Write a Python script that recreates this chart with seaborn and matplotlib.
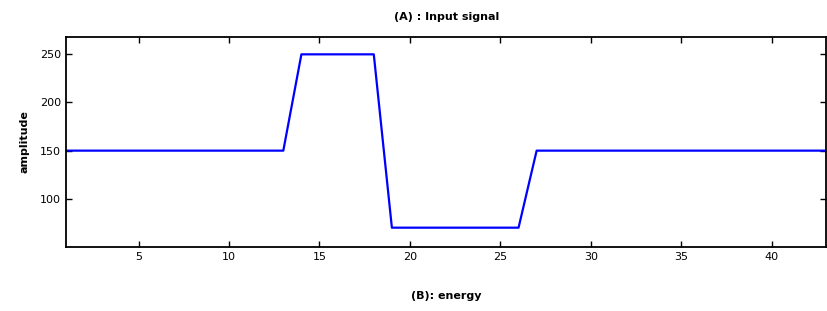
import pandas as pd
import seaborn as sns
import matplotlib.pyplot as plt

# breakpoints of the input signal
energy = [1, 13, 14, 18, 19, 26, 27, 43]
amplitude = [150, 150, 250, 250, 70, 70, 150, 150]

x_ticks = [5, 10, 15, 20, 25, 30, 35, 40]
y_ticks = [100, 150, 200, 250]


def main():
    sns.set_style('ticks')
    plt.rcParams['font.family'] = ['DejaVu Sans']
    plt.rcParams['text.color'] = 'black'
    plt.rcParams['axes.labelcolor'] = 'black'
    plt.rcParams['xtick.color'] = 'black'
    plt.rcParams['ytick.color'] = 'black'
    data = pd.DataFrame({'energy': energy, 'amplitude': amplitude})

    fig = plt.figure(figsize=(8.27, 3.11), dpi=100)
    ax = fig.add_axes([0.08, 0.206, 0.919, 0.675])
    sns.lineplot(data=data, x='energy', y='amplitude', color='#0000ff', linewidth=1.6, ax=ax)

    ax.set_xlim(1, 43)
    ax.set_ylim(50, 268)
    ax.set_xticks(x_ticks)
    ax.set_yticks(y_ticks)
    ax.tick_params(direction='in', top=True, right=True, length=4, width=1, labelsize=8)
    for side in ax.spines.values():
        side.set_linewidth(1.3)
        side.set_color('black')
        side.set_visible(True)

    ax.set_title('(A) : Input signal', fontsize=8, pad=12, fontweight='bold')
    ax.set_xlabel('(B): energy', fontsize=8, labelpad=21, fontweight='bold')
    ax.set_ylabel('amplitude', fontsize=8, labelpad=8, fontweight='bold')

    fig.savefig('out.png', dpi=100)


if __name__ == '__main__':
    main()
